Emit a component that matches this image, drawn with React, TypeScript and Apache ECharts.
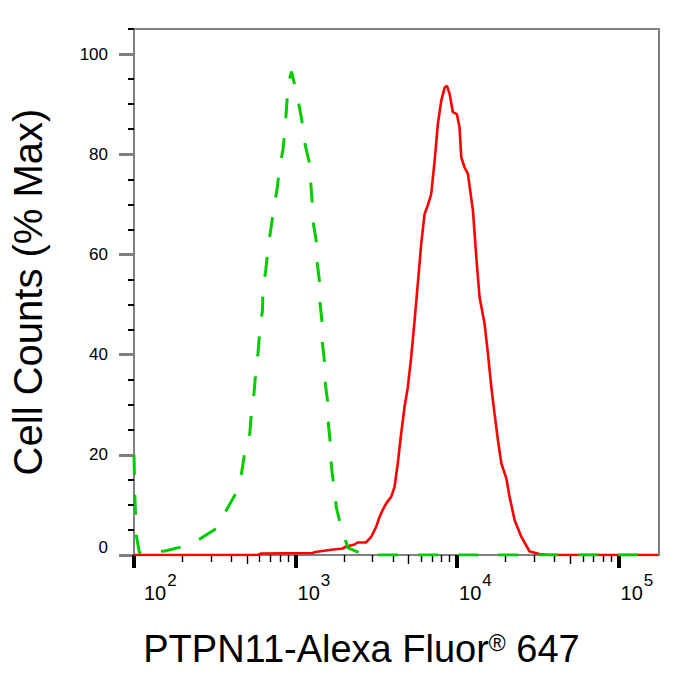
import React, { useEffect, useRef } from 'react';
import * as echarts from 'echarts';

// log10 of fluorescence intensity and % of max cell counts
const RED_LOG_X = [2.000, 2.764, 2.789, 3.105, 3.123, 3.210, 3.291, 3.315, 3.365, 3.383, 3.437, 3.468, 3.499, 3.520, 3.540, 3.561, 3.592, 3.613, 3.633, 3.654, 3.675, 3.695, 3.716, 3.737, 3.757, 3.778, 3.799, 3.819, 3.840, 3.861, 3.881, 3.902, 3.923, 3.937, 3.954, 3.974, 3.999, 4.015, 4.026, 4.046, 4.067, 4.098, 4.119, 4.139, 4.170, 4.191, 4.212, 4.232, 4.253, 4.274, 4.305, 4.325, 4.356, 4.398, 4.449, 4.511, 4.573, 5.250];
const RED_PCT = [0, 0, 0.3, 0.4, 0.6, 1.0, 1.3, 1.7, 2.1, 2.5, 2.5, 3.6, 5.6, 7.6, 9.0, 10.3, 11.6, 13.6, 18.3, 24.3, 29.6, 33.5, 39.5, 46.8, 54.2, 62.1, 68.1, 69.8, 72.1, 78.7, 86.0, 90.7, 93.3, 93.7, 92.0, 88.4, 88.0, 85.4, 79.4, 77.4, 76.1, 68.8, 59.5, 51.5, 46.2, 40.2, 33.5, 28.2, 22.9, 18.3, 15.3, 11.6, 7.0, 3.6, 0.7, 0.2, 0, 0];

const GREEN_LOG_X = [2.000, 2.005, 2.014, 2.033, 2.064, 2.099, 2.191, 2.305, 2.408, 2.515, 2.569, 2.634, 2.665, 2.686, 2.717, 2.727, 2.743, 2.754, 2.768, 2.779, 2.795, 2.799, 2.816, 2.830, 2.847, 2.867, 2.886, 2.902, 2.923, 2.936, 2.944, 2.954, 2.975, 2.990, 3.015, 3.037, 3.053, 3.084, 3.102, 3.108, 3.129, 3.133, 3.149, 3.151, 3.164, 3.166, 3.180, 3.185, 3.201, 3.204, 3.217, 3.222, 3.238, 3.253, 3.284, 3.325, 3.428, 5.250];
const GREEN_PCT = [20, 12, 4, 0.5, 0.3, 0.6, 0.8, 1.7, 3.2, 5.4, 8.8, 12.5, 16.2, 20.5, 24.3, 28.6, 32.3, 36.7, 40.4, 44.8, 48.8, 53.2, 56.9, 61.3, 65.0, 69.4, 73.1, 77.4, 81.1, 85.5, 89.2, 93.9, 96.5, 94.5, 90.9, 87.2, 82.8, 78.5, 71.0, 66.7, 62.5, 58.6, 54.4, 50.5, 46.5, 42.4, 38.4, 34.0, 30.1, 25.9, 21.9, 17.7, 13.5, 9.4, 5.4, 1.4, 0, 0];

const X_MIN = 2;
const X_MAX = 5.25;
const X_DECADES = [2, 3, 4, 5];
const X_MINOR_MULT = [2, 3, 4, 6, 7, 8, 9];
const X_MID_MULT = [5];
const Y_MIN = 0;
const Y_MAX = 105;
const Y_MAJOR = [0, 20, 40, 60, 80, 100];
const Y_MINOR = [5, 10, 15, 25, 30, 35, 45, 50, 55, 65, 70, 75, 85, 90, 95, 105];

const X_TITLE = '{a|PTPN11-Alexa Fluor}{r|®}{a| 647}';
const Y_TITLE = 'Cell Counts (% Max)';

const FONT = '"Liberation Sans", Arial, Helvetica, sans-serif';

const logTicks = (mults: number[]) => {
  const out: number[] = [];
  X_DECADES.forEach((d) => mults.forEach((k) => {
    const v = d + Math.log10(k);
    if (v <= X_MAX) out.push(v);
  }));
  return out;
};

export default function App() {
  const ref = useRef<HTMLDivElement>(null);
  useEffect(() => {
    if (!ref.current) return;
    const chart = echarts.init(ref.current, undefined, { renderer: 'svg' });
    const baseX = {
      type: 'value' as const,
      min: X_MIN,
      max: X_MAX,
      position: 'bottom' as const,
      axisLine: { show: false },
      splitLine: { show: false },
    };
    const baseY = {
      type: 'value' as const,
      min: Y_MIN,
      max: Y_MAX,
      position: 'left' as const,
      axisLine: { show: false },
      splitLine: { show: false },
    };
    chart.setOption({
      animation: false,
      textStyle: { fontFamily: FONT },
      grid: {
        left: 134, top: 29, width: 525, height: 526,
        show: true, borderColor: '#808080', borderWidth: 2, backgroundColor: 'transparent',
      },
      xAxis: [
        {
          ...baseX,
          name: X_TITLE,
          nameLocation: 'middle',
          nameGap: 75,
          nameTextStyle: {
            color: '#000', fontFamily: FONT, fontSize: 38, padding: [0, 70, 0, 0],
            rich: {
              a: { fontSize: 38, lineHeight: 38, color: '#000', fontFamily: FONT, verticalAlign: 'bottom' },
              r: { fontSize: 23, lineHeight: 23, color: '#000', fontFamily: FONT, verticalAlign: 'top', padding: [1, 0, 0, 0] },
            },
          },
          axisTick: { show: true, customValues: X_DECADES, length: 13, lineStyle: { color: '#000', width: 4 } },
          axisLabel: {
            show: true,
            customValues: X_DECADES,
            margin: 17,
            align: 'left',
            verticalAlign: 'top',
            formatter: (v: number) => {
              const e = Math.round(v);
              if (Math.abs(v - e) > 1e-6) return '';
              const b = e === X_DECADES[0] ? 'b0' : 'b';
              return `{${b}|10}{s|${e}}`;
            },
            rich: {
              b0: { fontSize: 20, lineHeight: 20, color: '#000', fontFamily: FONT, verticalAlign: 'bottom', padding: [0, 0, 0, 10] },
              b: { fontSize: 20, lineHeight: 20, color: '#000', fontFamily: FONT, verticalAlign: 'bottom', padding: [0, 0, 0, 2] },
              s: { fontSize: 17, color: '#000', fontFamily: FONT, verticalAlign: 'top', padding: [0, 0, 14, 1] },
            },
          },
        },
        {
          ...baseX,
          axisTick: { show: true, customValues: logTicks(X_MINOR_MULT), length: 7, lineStyle: { color: '#000', width: 1.4 } },
          axisLabel: { show: false },
        },
        {
          ...baseX,
          axisTick: { show: true, customValues: logTicks(X_MID_MULT), length: 9, lineStyle: { color: '#000', width: 1.4 } },
          axisLabel: { show: false },
        },
      ],
      yAxis: [
        {
          ...baseY,
          name: Y_TITLE,
          nameLocation: 'middle',
          nameGap: 86,
          nameTextStyle: { color: '#000', fontFamily: FONT, fontSize: 40 },
          axisTick: { show: true, customValues: Y_MAJOR, length: 15, lineStyle: { color: '#808080', width: 3 } },
          axisLabel: {
            show: true,
            customValues: Y_MAJOR,
            margin: 26,
            color: '#000',
            fontSize: 17,
            fontFamily: FONT,
            formatter: (v: number) => (v === 0 ? '{z|0}' : String(v)),
            rich: {
              z: { fontSize: 17, color: '#000', fontFamily: FONT, padding: [0, 0, 16, 0] },
            },
          },
        },
        {
          ...baseY,
          axisTick: { show: true, customValues: Y_MINOR, length: 6, lineStyle: { color: '#000', width: 2 } },
          axisLabel: { show: false },
        },
      ],
      series: [
        {
          type: 'line',
          xAxisIndex: 0,
          yAxisIndex: 0,
          data: RED_LOG_X.map((x, i) => [x, RED_PCT[i]]),
          showSymbol: false,
          silent: true,
          lineStyle: { color: '#ff0000', width: 2.6 },
          itemStyle: { color: '#ff0000' },
          z: 3,
        },
        {
          type: 'line',
          xAxisIndex: 0,
          yAxisIndex: 0,
          data: GREEN_LOG_X.map((x, i) => [x, GREEN_PCT[i]]),
          showSymbol: false,
          silent: true,
          lineStyle: { color: '#00cc00', width: 3, type: [20, 20] },
          itemStyle: { color: '#00cc00' },
          z: 4,
        },
      ],
    });
    return () => chart.dispose();
  }, []);
  return (
    <div
      ref={ref}
      style={{ position: 'absolute', left: 0, top: 0, width: 675, height: 674, background: '#fff' }}
    />
  );
}
